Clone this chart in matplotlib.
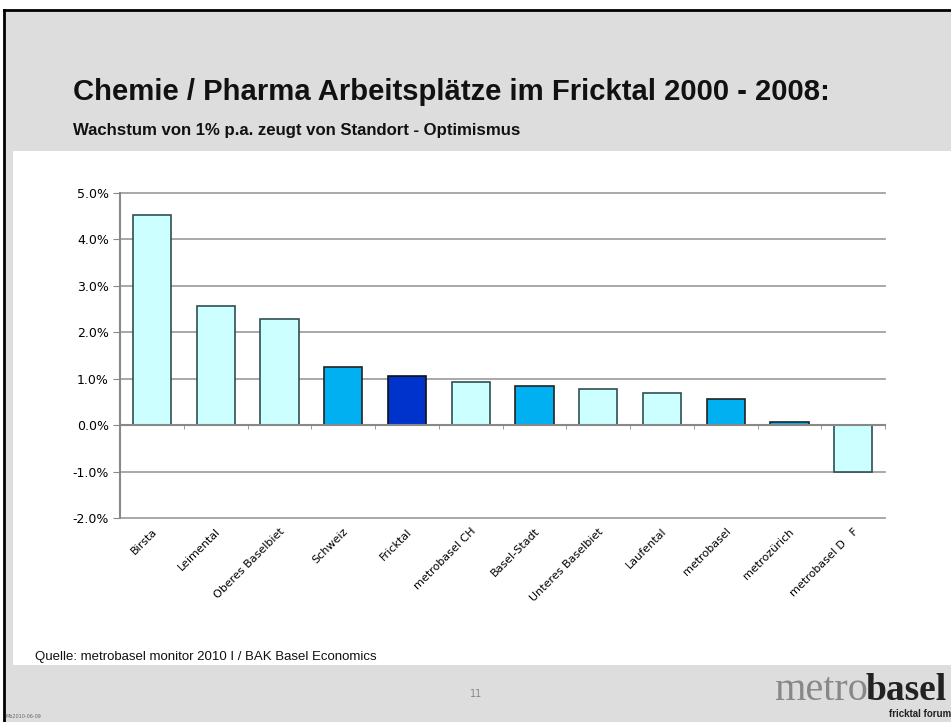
import numpy as np
import matplotlib.pyplot as plt
from matplotlib.patches import Rectangle
from matplotlib.ticker import FuncFormatter, FixedLocator

regions = ["Birsta", "Leimental", "Oberes Baselbiet", "Schweiz", "Fricktal",
           "metrobasel CH", "Basel-Stadt", "Unteres Baselbiet", "Laufental",
           "metrobasel", "metrozürich", "metrobasel D   F"]
growth = [4.53, 2.57, 2.29, 1.25, 1.05, 0.94, 0.84, 0.77, 0.69, 0.56, 0.06, -1.01]
kind = ["region", "region", "region", "ref", "focus", "region", "ref",
        "region", "region", "ref", "ref", "region"]

fills = {"region": "#CCFFFF", "ref": "#00B0F0", "focus": "#0033CC"}
edges = {"region": "#2F4F4F", "ref": "#222222", "focus": "#111111"}

W, H = 951, 722
fig = plt.figure(figsize=(W / 100, H / 100), dpi=100)
fig.patch.set_facecolor("white")

# grey slide background with black frame on top / left
fig.patches.append(Rectangle((4 / W, 0), 1, (H - 10) / H, transform=fig.transFigure,
                             facecolor="#DDDDDD", edgecolor="none", zorder=-2))
fig.add_artist(plt.Line2D([4 / W, 1], [(H - 10) / H] * 2, color="black", lw=2))
fig.add_artist(plt.Line2D([4 / W] * 2, [0, (H - 10) / H], color="black", lw=2))
# white chart panel
fig.patches.append(Rectangle((13 / W, (H - 665) / H), 938 / W, 514 / H,
                             transform=fig.transFigure, facecolor="white",
                             edgecolor="none", zorder=-1))

font = ["Liberation Sans", "DejaVu Sans"]
fig.text(73 / W, (H - 100) / H, "Chemie / Pharma Arbeitsplätze im Fricktal 2000 - 2008:",
         fontsize=21.1, fontweight="bold", family=font, color="#111111")
fig.text(73 / W, (H - 135) / H, "Wachstum von 1% p.a. zeugt von Standort - Optimismus",
         fontsize=12.1, fontweight="bold", family=font, color="#111111")

ax = fig.add_axes([120 / W, (H - 518) / H, 765 / W, 325 / H])
ax.set_zorder(2)
ax.set_facecolor("none")
x = np.arange(len(regions))
ax.bar(x, growth, width=0.6, color=[fills[k] for k in kind],
       edgecolor=[edges[k] for k in kind], linewidth=1.2, zorder=3)

ax.set_xlim(-0.5, len(regions) - 0.5)
ax.set_ylim(-2, 5)
ax.set_yticks(np.arange(-2, 5.1, 1))
ax.yaxis.set_major_formatter(FuncFormatter(lambda v, p: f"{v:.1f}%"))
ax.yaxis.grid(True, color="#999999", lw=1.2, zorder=0)
for gl in ax.get_ygridlines():
    gl.set_clip_on(False)
ax.tick_params(axis="y", length=5, color="#888888", labelsize=9, pad=3)

for s in ["top", "right"]:
    ax.spines[s].set_visible(False)
ax.spines["left"].set_color("#888888")
ax.spines["left"].set_linewidth(1.5)
ax.spines["bottom"].set_position(("data", 0))
ax.spines["bottom"].set_color("#888888")
ax.spines["bottom"].set_linewidth(1.5)
ax.spines["bottom"].set_zorder(4)
ax.set_xticks([])
ax.xaxis.set_minor_locator(FixedLocator(np.arange(-0.5, len(regions), 1)))
ax.tick_params(axis="x", which="minor", length=3, color="#888888")

sec = ax.secondary_xaxis("bottom")
sec.set_xticks(x)
sec.set_xticklabels(regions, rotation=45, ha="right", rotation_mode="anchor", fontsize=8)
sec.tick_params(length=0, pad=6)
sec.spines["bottom"].set_visible(False)

fig.text(35 / W, (H - 657) / H, "Quelle: metrobasel monitor 2010 I / BAK Basel Economics",
         fontsize=9.5, family=font, color="#111111", va="center")
fig.text(476 / W, (H - 694) / H, "11", fontsize=7, color="#888888", ha="center", va="center")
fig.text(6 / W, (H - 717) / H, "Mb2010-06-09", fontsize=3.5, color="#666666", va="center")
fig.text(868 / W, (H - 690) / H, "metro", fontsize=29, family="Liberation Serif",
         color="#888888", ha="right", va="center")
fig.text(866 / W, (H - 690) / H, "basel", fontsize=27, family="Liberation Serif",
         fontweight="bold", color="#222222", ha="left", va="center")
fig.text(951 / W, (H - 714) / H, "fricktal forum", fontsize=7, family=font,
         fontweight="bold", color="#222222", ha="right", va="center")

fig.savefig("out.png", dpi=100)
